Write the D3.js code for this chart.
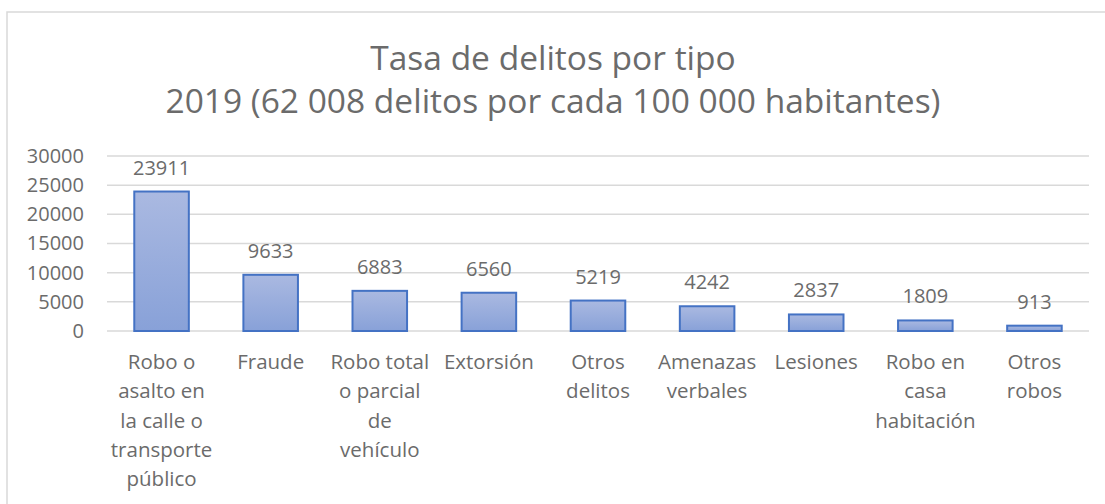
<!DOCTYPE html>
<html>
<head>
<meta charset="utf-8">
<script src="https://cdn.jsdelivr.net/npm/d3@7"></script>
<style>
  html, body { margin: 0; padding: 0; background: #fff; }
  svg { display: block; }
  text { font-family: "Open Sans", Lato, sans-serif; fill: #6b6b6b; }
</style>
</head>
<body>
<svg id="chart" width="1105" height="504"></svg>
<script>
const titleLines = ["Tasa de delitos por tipo", "2019 (62 008 delitos por cada 100 000 habitantes)"];
const categories = [
  "Robo o\nasalto en\nla calle o\ntransporte\npúblico",
  "Fraude",
  "Robo total\no parcial\nde\nvehículo",
  "Extorsión",
  "Otros\ndelitos",
  "Amenazas\nverbales",
  "Lesiones",
  "Robo en\ncasa\nhabitación",
  "Otros\nrobos"
];
const values = [23911, 9633, 6883, 6560, 5219, 4242, 2837, 1809, 913];
const yTicks = [0, 5000, 10000, 15000, 20000, 25000, 30000];

const svg = d3.select("#chart");
const W = 1105, H = 504;
const plot = { left: 107, right: 1089, top: 156, bottom: 331 };

// chart border
svg.append("rect").attr("x", 7).attr("y", 12).attr("width", W + 10).attr("height", H + 10)
  .attr("fill", "#fff").attr("stroke", "#d9d9d9").attr("stroke-width", 1.5);

// gradient
const defs = svg.append("defs");
const grad = defs.append("linearGradient").attr("id", "barGrad")
  .attr("x1", 0).attr("y1", 0).attr("x2", 0).attr("y2", 1);
grad.append("stop").attr("offset", "0%").attr("stop-color", "#aab9e1");
grad.append("stop").attr("offset", "100%").attr("stop-color", "#88a1d8");

// title
svg.append("g").selectAll("text").data(titleLines).join("text")
  .attr("x", 553).attr("y", (d, i) => 70 + i * 43)
  .attr("text-anchor", "middle").style("font-size", "33.5px")
  .text(d => d);

const x = d3.scaleBand().domain(d3.range(categories.length))
  .range([plot.left, plot.right]).paddingInner(0.5).paddingOuter(0.25);
const y = d3.scaleLinear().domain([0, 30000]).range([plot.bottom, plot.top]);

// gridlines
svg.append("g").selectAll("line").data(yTicks).join("line")
  .attr("x1", plot.left).attr("x2", plot.right)
  .attr("y1", d => y(d)).attr("y2", d => y(d))
  .attr("stroke", "#d9d9d9").attr("stroke-width", 1.5);

// y axis labels
const yAxis = d3.axisLeft(y).tickValues(yTicks).tickSize(0).tickPadding(0).tickFormat(d3.format("d"));
const gy = svg.append("g").attr("transform", "translate(84,0)").call(yAxis);
gy.select(".domain").remove();
gy.selectAll("text").style("font-size", "20px").attr("fill", "#6b6b6b")
  .style("font-family", "'Open Sans', Lato, sans-serif");

// bars
svg.append("g").selectAll("rect").data(values).join("rect")
  .attr("x", (d, i) => x(i)).attr("width", x.bandwidth())
  .attr("y", d => y(d)).attr("height", d => y(0) - y(d))
  .attr("fill", "url(#barGrad)").attr("stroke", "#4472c4").attr("stroke-width", 2);

// data labels
svg.append("g").selectAll("text").data(values).join("text")
  .attr("x", (d, i) => x(i) + x.bandwidth() / 2).attr("y", d => y(d) - 17)
  .attr("text-anchor", "middle").style("font-size", "20px")
  .text(d => d);

// x axis labels
const xAxis = d3.axisBottom(x).tickSize(0).tickFormat(() => "");
const gx = svg.append("g").attr("transform", `translate(0,${plot.bottom})`).call(xAxis);
gx.select(".domain").remove();
gx.selectAll(".tick").each(function(i) {
  const t = d3.select(this).append("text").attr("text-anchor", "middle")
    .style("font-size", "20.5px").attr("fill", "#6b6b6b");
  categories[i].split("\n").forEach((line, k) => {
    t.append("tspan").attr("x", 0).attr("y", 38 + k * 29.3).text(line);
  });
});
</script>
</body>
</html>
